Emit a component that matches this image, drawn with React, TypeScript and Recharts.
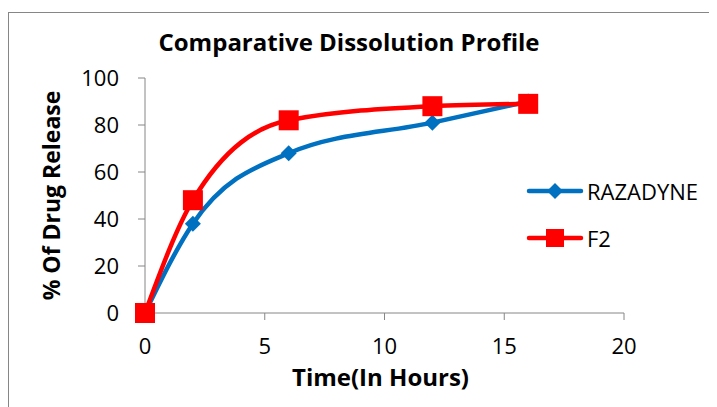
import { LineChart, Line, XAxis, YAxis, Legend } from 'recharts'

const TIME = [0, 2, 6, 12, 16]
const RAZADYNE = [0, 38, 68, 81, 90]
const F2 = [0, 48, 82, 88, 89]
const SERIES_ORDER = ['RAZADYNE', 'F2']
const X_TICKS = [0, 5, 10, 15, 20]
const Y_TICKS = [0, 20, 40, 60, 80, 100]

const BLUE = '#0070C0'
const RED = '#FF0000'
const AXIS = '#868686'
const FONT = '"Open Sans", "Noto Sans", sans-serif'

const data = TIME.map((t, i) => ({ time: t, razadyne: RAZADYNE[i], f2: F2[i] }))

function diamond(cx: number, cy: number, r: number, fill: string) {
  return <polygon points={`${cx},${cy - r} ${cx + r},${cy} ${cx},${cy + r} ${cx - r},${cy}`} fill={fill} />
}

function square(cx: number, cy: number, s: number, fill: string) {
  return <rect x={cx - s} y={cy - s} width={s * 2} height={s * 2} fill={fill} />
}

function DiamondDot({ cx, cy, index }: any) {
  if (cx == null || cy == null) return null
  return <g key={`d${index}`}>{diamond(cx, cy, 8, BLUE)}</g>
}

function SquareDot({ cx, cy, index }: any) {
  if (cx == null || cy == null) return null
  return <g key={`s${index}`}>{square(cx, cy, 10, RED)}</g>
}

function LegendContent({ payload }: any) {
  const items = [...(payload ?? [])].sort(
    (a: any, b: any) => SERIES_ORDER.indexOf(a.value) - SERIES_ORDER.indexOf(b.value)
  )
  return (
    <div>
      {items.map((entry: any) => (
        <div key={entry.value} style={{ display: 'flex', alignItems: 'center', height: 47 }}>
          <svg width={58} height={22}>
            <line x1={3} y1={11} x2={55} y2={11} stroke={entry.color} strokeWidth={4.5} strokeLinecap="round" />
            {entry.color === BLUE ? diamond(29, 11, 8, BLUE) : square(29, 11, 9, RED)}
          </svg>
          <span style={{ marginLeft: 3, fontSize: 22, lineHeight: '26px', color: '#000', fontFamily: FONT }}>
            {entry.value}
          </span>
        </div>
      ))}
    </div>
  )
}

export default function App() {
  return (
    <div style={{ paddingTop: 4 }}>
      <div
        style={{
          position: 'relative',
          width: 709,
          height: 395,
          borderLeft: `1px solid ${AXIS}`,
          borderTop: `1px solid ${AXIS}`,
          fontFamily: FONT,
        }}
      >
        <div
          style={{
            position: 'absolute',
            left: 340,
            top: 15,
            transform: 'translateX(-50%)',
            fontSize: 24,
            fontWeight: 700,
            lineHeight: '28px',
            whiteSpace: 'nowrap',
            color: '#000',
          }}
        >
          Comparative Dissolution Profile
        </div>
        <LineChart width={708} height={394} data={data} margin={{ top: 65, right: 93, bottom: 0, left: 0 }}>
          <XAxis
            dataKey="time"
            type="number"
            domain={[0, 20]}
            ticks={X_TICKS}
            height={94}
            stroke={AXIS}
            tickSize={7}
            tickMargin={18}
            tick={{ fill: '#000', fontSize: 22, fontFamily: FONT }}
            label={{ value: 'Time(In Hours)', position: 'center', dx: -4, dy: 17, fill: '#000', fontSize: 24, fontWeight: 700, fontFamily: FONT }}
          />
          <YAxis
            type="number"
            domain={[0, 100]}
            ticks={Y_TICKS}
            width={136}
            stroke={AXIS}
            tickSize={7}
            tickMargin={19}
            tick={{ fill: '#000', fontSize: 22, fontFamily: FONT }}
            label={{ value: '% Of Drug Release', angle: -90, position: 'center', dx: -25, dy: 0, fill: '#000', fontSize: 23, fontWeight: 700, fontFamily: FONT }}
          />
          <Legend
            layout="vertical"
            align="center"
            verticalAlign="middle"
            content={<LegendContent />}
            wrapperStyle={{ left: 517, top: 154, width: 'auto' }}
          />
          <Line
            name="RAZADYNE"
            dataKey="razadyne"
            type="monotone"
            stroke={BLUE}
            strokeWidth={4.5}
            dot={DiamondDot}
            activeDot={false}
            isAnimationActive={false}
          />
          <Line
            name="F2"
            dataKey="f2"
            type="monotone"
            stroke={RED}
            strokeWidth={4.5}
            dot={SquareDot}
            activeDot={false}
            isAnimationActive={false}
          />
        </LineChart>
      </div>
    </div>
  )
}
